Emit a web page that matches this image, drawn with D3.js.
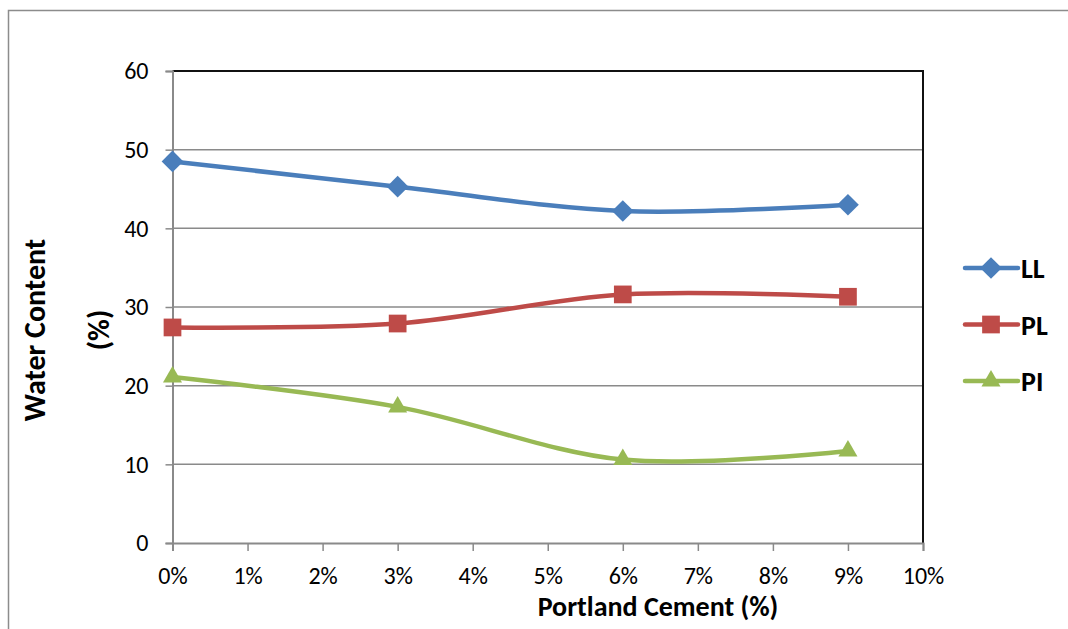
<!DOCTYPE html>
<html>
<head>
<meta charset="utf-8">
<script src="https://cdn.jsdelivr.net/npm/d3@7"></script>
<style>
  html, body { margin: 0; padding: 0; background: #fff; }
  svg { display: block; font-family: Carlito, "Liberation Sans Narrow", "Open Sans", sans-serif; }
</style>
</head>
<body>
<svg id="chart" width="1068" height="629"></svg>
<script>
// Cement content on the x axis (fraction), water content in percent
const cementLevels = [0, 0.03, 0.06, 0.09];
const liquidLimit = [48.5, 45.3, 42.2, 43.0];
const plasticLimit = [27.4, 27.9, 31.6, 31.3];
const plasticityIndex = [21.1, 17.3, 10.6, 11.7];
const seriesNames = ["LL", "PL", "PI"];
const xTicks = [0, 0.01, 0.02, 0.03, 0.04, 0.05, 0.06, 0.07, 0.08, 0.09, 0.10];
const yTicks = [0, 10, 20, 30, 40, 50, 60];

const fontStack = "Carlito, 'Liberation Sans Narrow', 'Open Sans', sans-serif";

const series = [
  { name: seriesNames[0], values: liquidLimit, color: "#4a7ebb", symbol: d3.symbolDiamond2, size: 300 },
  { name: seriesNames[1], values: plasticLimit, color: "#be4b48", symbol: d3.symbolSquare2, size: 400 },
  { name: seriesNames[2], values: plasticityIndex, color: "#98b954", symbol: d3.symbolTriangle2, size: 260 }
];

const svg = d3.select("#chart");

// Outer chart-area frame
svg.append("path")
  .attr("d", "M8.5,629 V10.5 H1068")
  .attr("fill", "none").attr("stroke", "#8c8c8c").attr("stroke-width", 1.5);

const plot = { left: 172.5, right: 923, top: 71, bottom: 543 };
const x = d3.scaleLinear().domain([0, 0.10]).range([plot.left, plot.right]);
const y = d3.scaleLinear().domain([0, 60]).range([plot.bottom, plot.top]);

// Horizontal gridlines
svg.append("g").selectAll("line")
  .data(yTicks.filter(v => v > 0 && v < 60))
  .join("line")
  .attr("x1", plot.left).attr("x2", plot.right)
  .attr("y1", d => y(d)).attr("y2", d => y(d))
  .attr("stroke", "#8a8a8a").attr("stroke-width", 1.5);

// Plot-area border (top and right)
svg.append("path")
  .attr("d", `M${plot.left},${plot.top} H${plot.right} V${plot.bottom}`)
  .attr("fill", "none").attr("stroke", "#111").attr("stroke-width", 2);

// Y axis
const yAxis = svg.append("g")
  .attr("transform", `translate(${plot.left},0)`)
  .call(d3.axisLeft(y).tickValues(yTicks).tickSize(7).tickPadding(17).tickFormat(d3.format("d")));
yAxis.select(".domain").attr("stroke", "#8a8a8a").attr("stroke-width", 2);
yAxis.selectAll(".tick line").attr("stroke", "#8a8a8a").attr("stroke-width", 1.5);
yAxis.selectAll(".tick text").attr("font-size", 24).attr("fill", "#000")
  .attr("font-family", fontStack);

// X axis
const xAxis = svg.append("g")
  .attr("transform", `translate(0,${plot.bottom})`)
  .call(d3.axisBottom(x).tickValues(xTicks).tickSize(8).tickPadding(16).tickFormat(d3.format(".0%")));
xAxis.select(".domain").attr("stroke", "#8a8a8a").attr("stroke-width", 2);
xAxis.selectAll(".tick line").attr("stroke", "#8a8a8a").attr("stroke-width", 1.5);
xAxis.selectAll(".tick text").attr("font-size", 24).attr("fill", "#000")
  .attr("font-family", fontStack);

// Axis titles
svg.append("text")
  .attr("x", 658).attr("y", 616)
  .attr("text-anchor", "middle")
  .attr("font-size", 28).attr("font-weight", "bold")
  .text("Portland Cement (%)");

const yTitle = svg.append("text")
  .attr("transform", "translate(0,330) rotate(-90)")
  .attr("text-anchor", "middle")
  .attr("font-size", 30).attr("font-weight", "bold");
yTitle.append("tspan").attr("x", 0).attr("y", 45).text("Water Content");
yTitle.append("tspan").attr("x", 0).attr("y", 109).text("(%)");

// Smoothed series lines and markers
const line = d3.line()
  .x((d, i) => x(cementLevels[i]))
  .y(d => y(d))
  .curve(d3.curveCatmullRom.alpha(0));

series.forEach(s => {
  svg.append("path")
    .datum(s.values)
    .attr("d", line)
    .attr("fill", "none")
    .attr("stroke", s.color)
    .attr("stroke-width", 4.5)
    .attr("stroke-linecap", "round");
  svg.append("g").selectAll("path")
    .data(s.values)
    .join("path")
    .attr("transform", (d, i) => `translate(${x(cementLevels[i])},${y(d)})`)
    .attr("d", d3.symbol().type(s.symbol).size(s.size))
    .attr("fill", s.color);
});

// Legend
const legend = svg.append("g");
series.forEach((s, i) => {
  const ly = 268 + i * 56.5;
  legend.append("line")
    .attr("x1", 965).attr("x2", 1018).attr("y1", ly).attr("y2", ly)
    .attr("stroke", s.color).attr("stroke-width", 4.5).attr("stroke-linecap", "round");
  legend.append("path")
    .attr("transform", `translate(991,${ly})`)
    .attr("d", d3.symbol().type(s.symbol).size(s.size))
    .attr("fill", s.color);
  legend.append("text")
    .attr("x", 1021).attr("y", ly + 10)
    .attr("font-size", 28).attr("font-weight", "bold")
    .text(s.name);
});
</script>
</body>
</html>
